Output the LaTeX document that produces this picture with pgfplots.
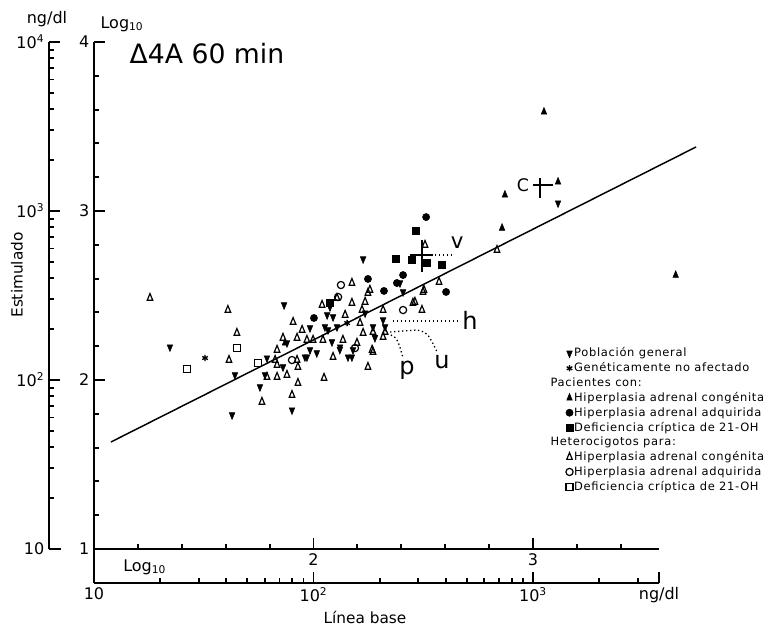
\documentclass[border=0pt]{standalone}
\usepackage{fontspec}
\setmainfont{DejaVu Sans}
\newfontfamily\legfont[LetterSpace=6]{DejaVu Sans}
\usepackage{pgfplots}
\pgfplotsset{compat=1.18}

\pgfplotsset{
  scan/.style={
    scale only axis,
    clip=false,
    axis line style={-, line width=1.4pt},
    tick style={draw=none},
    tick label style={font=\fontsize{12}{14}\selectfont},
  },
}
% tick marks drawn along the axis lines
\newcommand{\xticks}[3]{\pgfplotsinvokeforeach{#1}{\draw[line width=1.4pt] (axis cs:##1,#2) -- ([yshift=#3]axis cs:##1,#2);}}
\newcommand{\yticks}[3]{\pgfplotsinvokeforeach{#1}{\draw[line width=1.4pt] (axis cs:#2,##1) -- ([xshift=#3]axis cs:#2,##1);}}

\begin{document}
\begin{tikzpicture}
\useasboundingbox (-70.5pt,-59.25pt) rectangle (512.25pt,411.75pt);

% outer ng/dl scale, left
\begin{axis}[scan,
  at={(-33.75pt,0pt)}, anchor=south west,
  width=9pt, height=380.25pt,
  xmin=0, xmax=1, ymode=log, ymin=10, ymax=10000,
  axis x line*=bottom, axis y line*=left,
  xtick=\empty,
  ytick={10,100,1000,10000},
  yticklabels={10,10\textsuperscript{2},10\textsuperscript{3},10\textsuperscript{4}},
]
\yticks{100,1000,10000}{0}{8pt}
\yticks{20,30,40,50,60,70,80,90,200,300,400,500,600,700,800,900,2000,3000,4000,5000,6000,7000,8000,9000}{0}{4pt}
\end{axis}

% outer ng/dl scale, bottom
\begin{axis}[scan,
  at={(0pt,-25.5pt)}, anchor=south west,
  width=423.75pt, height=25.5pt,
  xmode=log, xmin=10, xmax=3750, ymin=0, ymax=1,
  axis x line*=bottom, axis y line*=left,
  ytick=\empty,
  xtick={10,100,1000,3750},
  xticklabels={10,10\textsuperscript{2},10\textsuperscript{3},ng/dl},
]
\xticks{100,1000,3750}{0}{8pt}
\xticks{20,30,40,50,60,70,80,90,200,300,400,500,600,700,800,900,2000,3000}{0}{4pt}
\end{axis}

% main Log10 axes with the data
\begin{axis}[scan,
  width=423.75pt, height=380.25pt,
  xmin=1, xmax=3.574, ymin=1, ymax=4,
  axis x line*=bottom, axis y line*=left,
  xtick={2,3}, xticklabels={2,3},
  ytick={1,2,3,4}, yticklabels={1,2,3,4},
  legend cell align=left,
  legend style={at={(axis cs:3.095,2.215)}, anchor=north west, draw=none, fill=none,
    font=\legfont\fontsize{8.6}{9.6}\selectfont, row sep=1.3pt, nodes={inner sep=0.8pt}},
]
\xticks{2,3}{1}{8pt}
\xticks{1.2,1.4,1.6,1.8,2.2,2.4,2.6,2.8,3.2,3.4}{1}{4pt}
\yticks{2,3,4}{1}{8pt}
\yticks{1.2,1.4,1.6,1.8,2.2,2.4,2.6,2.8,3.2,3.4,3.6,3.8}{1}{4pt}

% regression line
\addplot[black, line width=1.1pt, forget plot] coordinates {(1.077,1.633) (3.743,3.379)};

% Poblacion general
\addplot[only marks, mark=triangle*, mark size=2.4pt, mark options={rotate=180, yscale=1.4, fill=black, draw=black}] coordinates {
(1.346,2.195) (1.642,2.030) (1.629,1.793) (1.788,2.130) (1.756,1.959)
(1.866,2.444) (1.902,1.822) (1.984,2.308) (1.970,2.136) (2.089,2.373)
(2.226,2.716) (2.326,2.314) (2.394,2.574) (3.114,3.047) (2.175,2.136)
(2.052,2.314) (2.015,2.160) (2.120,2.180) (2.280,2.250)
(2.075,2.432) (2.062,2.385) (2.066,2.296) (2.084,2.225) (2.107,2.314)
(2.121,2.195) (2.157,2.136) (2.180,2.178) (2.235,2.396) (2.271,2.314)
(2.317,2.355) (1.984,2.178) (1.961,2.136) (1.879,2.219) (1.779,2.030)
(1.861,2.077) (2.408,2.521)
};
\addlegendentry{Población general}
% Geneticamente no afectado
\addplot[only marks, mark=asterisk, mark size=2.4pt, mark options={line width=1pt, draw=black}] coordinates {
(1.506,2.130) (2.153,2.337)
};
\addlegendentry{Genéticamente no afectado}
\addlegendimage{empty legend}
\addlegendentry{\hspace*{-0.62cm}Pacientes con:}
% Pacientes: HAC
\addplot[only marks, mark=triangle*, mark size=2.4pt, mark options={yscale=1.4, fill=black, draw=black}] coordinates {
(2.872,3.095) (3.050,3.586) (3.114,3.172) (2.859,2.899) (1.870,2.219) (3.650,2.620)
};
\addlegendentry{Hiperplasia adrenal congénita}
% Pacientes: HAA
\addplot[only marks, mark=*, mark size=2.7pt, mark options={fill=black, draw=black}] coordinates {
(2.002,2.367) (2.248,2.598) (2.321,2.527) (2.408,2.621) (2.604,2.521) (2.513,2.964)
(2.380,2.574)
};
\addlegendentry{Hiperplasia adrenal adquirida}
% Pacientes: deficiencia criptica
\addplot[only marks, mark=square*, mark size=2.6pt, mark options={fill=black, draw=black}] coordinates {
(2.075,2.456) (2.376,2.716) (2.449,2.710) (2.517,2.692) (2.585,2.680) (2.467,2.882)
};
\addlegendentry{Deficiencia críptica de 21-OH}
\addlegendimage{empty legend}
\addlegendentry{\hspace*{-0.62cm}Heterocigotos para:}
% Heterocigotos: HAC
\addplot[only marks, mark=triangle, mark size=2.4pt, mark options={yscale=1.4, line width=0.9pt, draw=black}] coordinates {
(1.255,2.485) (1.610,2.414) (1.651,2.278) (1.615,2.118) (1.788,2.018)
(1.765,1.870) (1.834,2.178) (1.834,2.089) (1.879,2.030) (1.902,1.911)
(1.929,2.077) (1.929,1.982) (1.907,2.343) (1.925,2.249) (1.948,2.296)
(1.970,2.237) (2.039,2.444) (2.043,2.237) (2.048,2.012) (2.107,2.485)
(2.089,2.136) (2.134,2.237) (2.144,2.385) (2.175,2.574) (2.175,2.456)
(2.221,2.414) (2.212,2.337) (2.226,2.278) (2.257,2.533) (2.267,2.178)
(2.271,2.284) (2.317,2.414) (2.317,2.254) (2.462,2.462) (2.494,2.414)
(2.503,2.533) (2.572,2.580) (2.836,2.769) (2.248,2.077) (2.508,2.799)
(2.248,2.515) (2.499,2.521) (2.198,2.219) (2.235,2.462) (2.326,2.284)
(2.271,2.166) (1.998,2.237) (1.925,2.118) (1.861,2.249) (1.825,2.118)
(1.834,2.018) (2.453,2.456)
};
\addlegendentry{Hiperplasia adrenal congénita}
% Heterocigotos: HAA
\addplot[only marks, mark=o, mark size=2.7pt, mark options={line width=0.9pt, draw=black}] coordinates {
(2.125,2.562) (1.902,2.118) (2.189,2.189) (2.408,2.414) (2.112,2.491)
};
\addlegendentry{Hiperplasia adrenal adquirida}
% Heterocigotos: deficiencia criptica
\addplot[only marks, mark=square, mark size=2.6pt, mark options={line width=0.9pt, draw=black}] coordinates {
(1.424,2.065) (1.651,2.189) (1.747,2.101)
};
\addlegendentry{Deficiencia críptica de 21-OH}

% annotations
\node[anchor=west, font=\fontsize{20}{24}\selectfont] at (axis cs:1.141,3.929) {Δ4A 60 min};
\draw[dotted, line width=1pt] (axis cs:2.517,2.740) -- (axis cs:2.636,2.740);
\draw[line width=1pt] (axis cs:2.495,2.828) -- (axis cs:2.495,2.639);
\draw[line width=1pt] (axis cs:2.440,2.740) -- (axis cs:2.544,2.740);
\node[font=\fontsize{16}{18}\selectfont] at (axis cs:2.654,2.811) {v};
\draw[dotted, line width=1pt] (axis cs:2.362,2.349) -- (axis cs:2.667,2.349);
\node[font=\fontsize{18}{20}\selectfont] at (axis cs:2.713,2.355) {h};
\draw[dotted, line width=1pt] (axis cs:2.317,2.278) .. controls (axis cs:2.380,2.260) .. (axis cs:2.408,2.130);
\node[font=\fontsize{18}{20}\selectfont] at (axis cs:2.426,2.059) {p};
\draw[dotted, line width=1pt] (axis cs:2.349,2.284) -- (axis cs:2.472,2.296) .. controls (axis cs:2.520,2.280) .. (axis cs:2.563,2.166);
\node[font=\fontsize{18}{20}\selectfont] at (axis cs:2.585,2.107) {u};
\node[font=\fontsize{13}{15}\selectfont] at (axis cs:2.954,3.154) {C};
\draw[line width=1pt] (axis cs:3.0,3.154) -- (axis cs:3.091,3.154);
\draw[line width=1pt] (axis cs:3.032,3.195) -- (axis cs:3.032,3.077);
\end{axis}

% scale and axis titles
\node[font=\fontsize{12}{14}\selectfont] at (-35.25pt,397.5pt) {ng/dl};
\node[font=\fontsize{12}{14}\selectfont] at (21pt,393.75pt) {Log\textsubscript{10}};
\node[font=\fontsize{12}{14}\selectfont] at (38pt,-13.5pt) {Log\textsubscript{10}};
\node[font=\fontsize{11.5}{13}\selectfont] at (203.25pt,-51pt) {Línea base};
\node[font=\fontsize{11.5}{13}\selectfont, rotate=90] at (-57.75pt,205.5pt) {Estimulado};
\end{tikzpicture}
\end{document}
